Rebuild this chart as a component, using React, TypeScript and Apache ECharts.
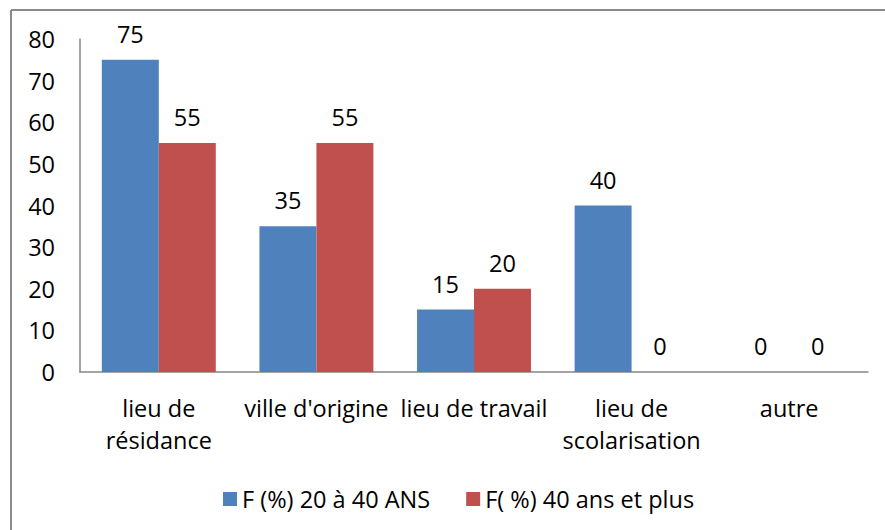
import React, { useEffect, useRef } from "react";
import * as echarts from "echarts";

const categories = ["lieu de\nrésidance", "ville d'origine", "lieu de travail", "lieu de\nscolarisation", "autre"];
const seriesNames = ["F (%) 20 à 40 ANS", "F( %) 40 ans et plus"];
const young = [75, 35, 15, 40, 0];
const older = [55, 55, 20, 0, 0];

const FONT = "Open Sans";
const FS = 23.5;

export default function App() {
  const ref = useRef<HTMLDivElement>(null);
  useEffect(() => {
    if (!ref.current) return;
    const chart = echarts.init(ref.current, undefined, { renderer: "svg" });
    const labelStyle = {
      show: true,
      position: "top" as const,
      distance: 14,
      color: "#000",
      fontFamily: FONT,
      fontSize: FS,
    };
    chart.setOption({
      animation: false,
      backgroundColor: "#fff",
      textStyle: { fontFamily: FONT },
      grid: { left: 80, right: 17, top: 39, bottom: 158, containLabel: false },
      legend: {
        left: 218,
        top: 482,
        itemWidth: 14,
        itemHeight: 14,
        itemGap: 36,
        icon: "rect",
        textStyle: { fontFamily: FONT, fontSize: FS, color: "#000" },
        data: seriesNames,
      },
      xAxis: {
        type: "category",
        data: categories,
        axisLine: { lineStyle: { color: "#868686", width: 1.5 } },
        axisTick: { show: false },
        axisLabel: {
          color: "#000",
          fontFamily: FONT,
          fontSize: FS,
          lineHeight: 32,
          margin: 20,
          interval: 0,
        },
      },
      yAxis: {
        type: "value",
        min: 0,
        max: 80,
        interval: 10,
        splitLine: { show: false },
        axisLine: { show: true, lineStyle: { color: "#868686", width: 1.5 } },
        axisTick: { show: false },
        axisLabel: { color: "#000", fontFamily: FONT, fontSize: FS, margin: 25 },
      },
      series: [
        {
          name: seriesNames[0],
          type: "bar",
          data: young,
          itemStyle: { color: "#4F81BD" },
          barGap: "0%",
          barCategoryGap: "27.7%",
          label: labelStyle,
        },
        {
          name: seriesNames[1],
          type: "bar",
          data: older,
          itemStyle: { color: "#C0504D" },
          label: labelStyle,
        },
      ],
      graphic: [
        {
          type: "line",
          shape: { x1: 11, y1: 10, x2: 885, y2: 10 },
          style: { stroke: "#8a8a8a", lineWidth: 2 },
        },
        {
          type: "line",
          shape: { x1: 11, y1: 10, x2: 11, y2: 530 },
          style: { stroke: "#8a8a8a", lineWidth: 2 },
        },
      ],
    });
    return () => chart.dispose();
  }, []);
  return (
    <div
      ref={ref}
      style={{ position: "fixed", left: 0, top: 0, width: 885, height: 530 }}
    />
  );
}
